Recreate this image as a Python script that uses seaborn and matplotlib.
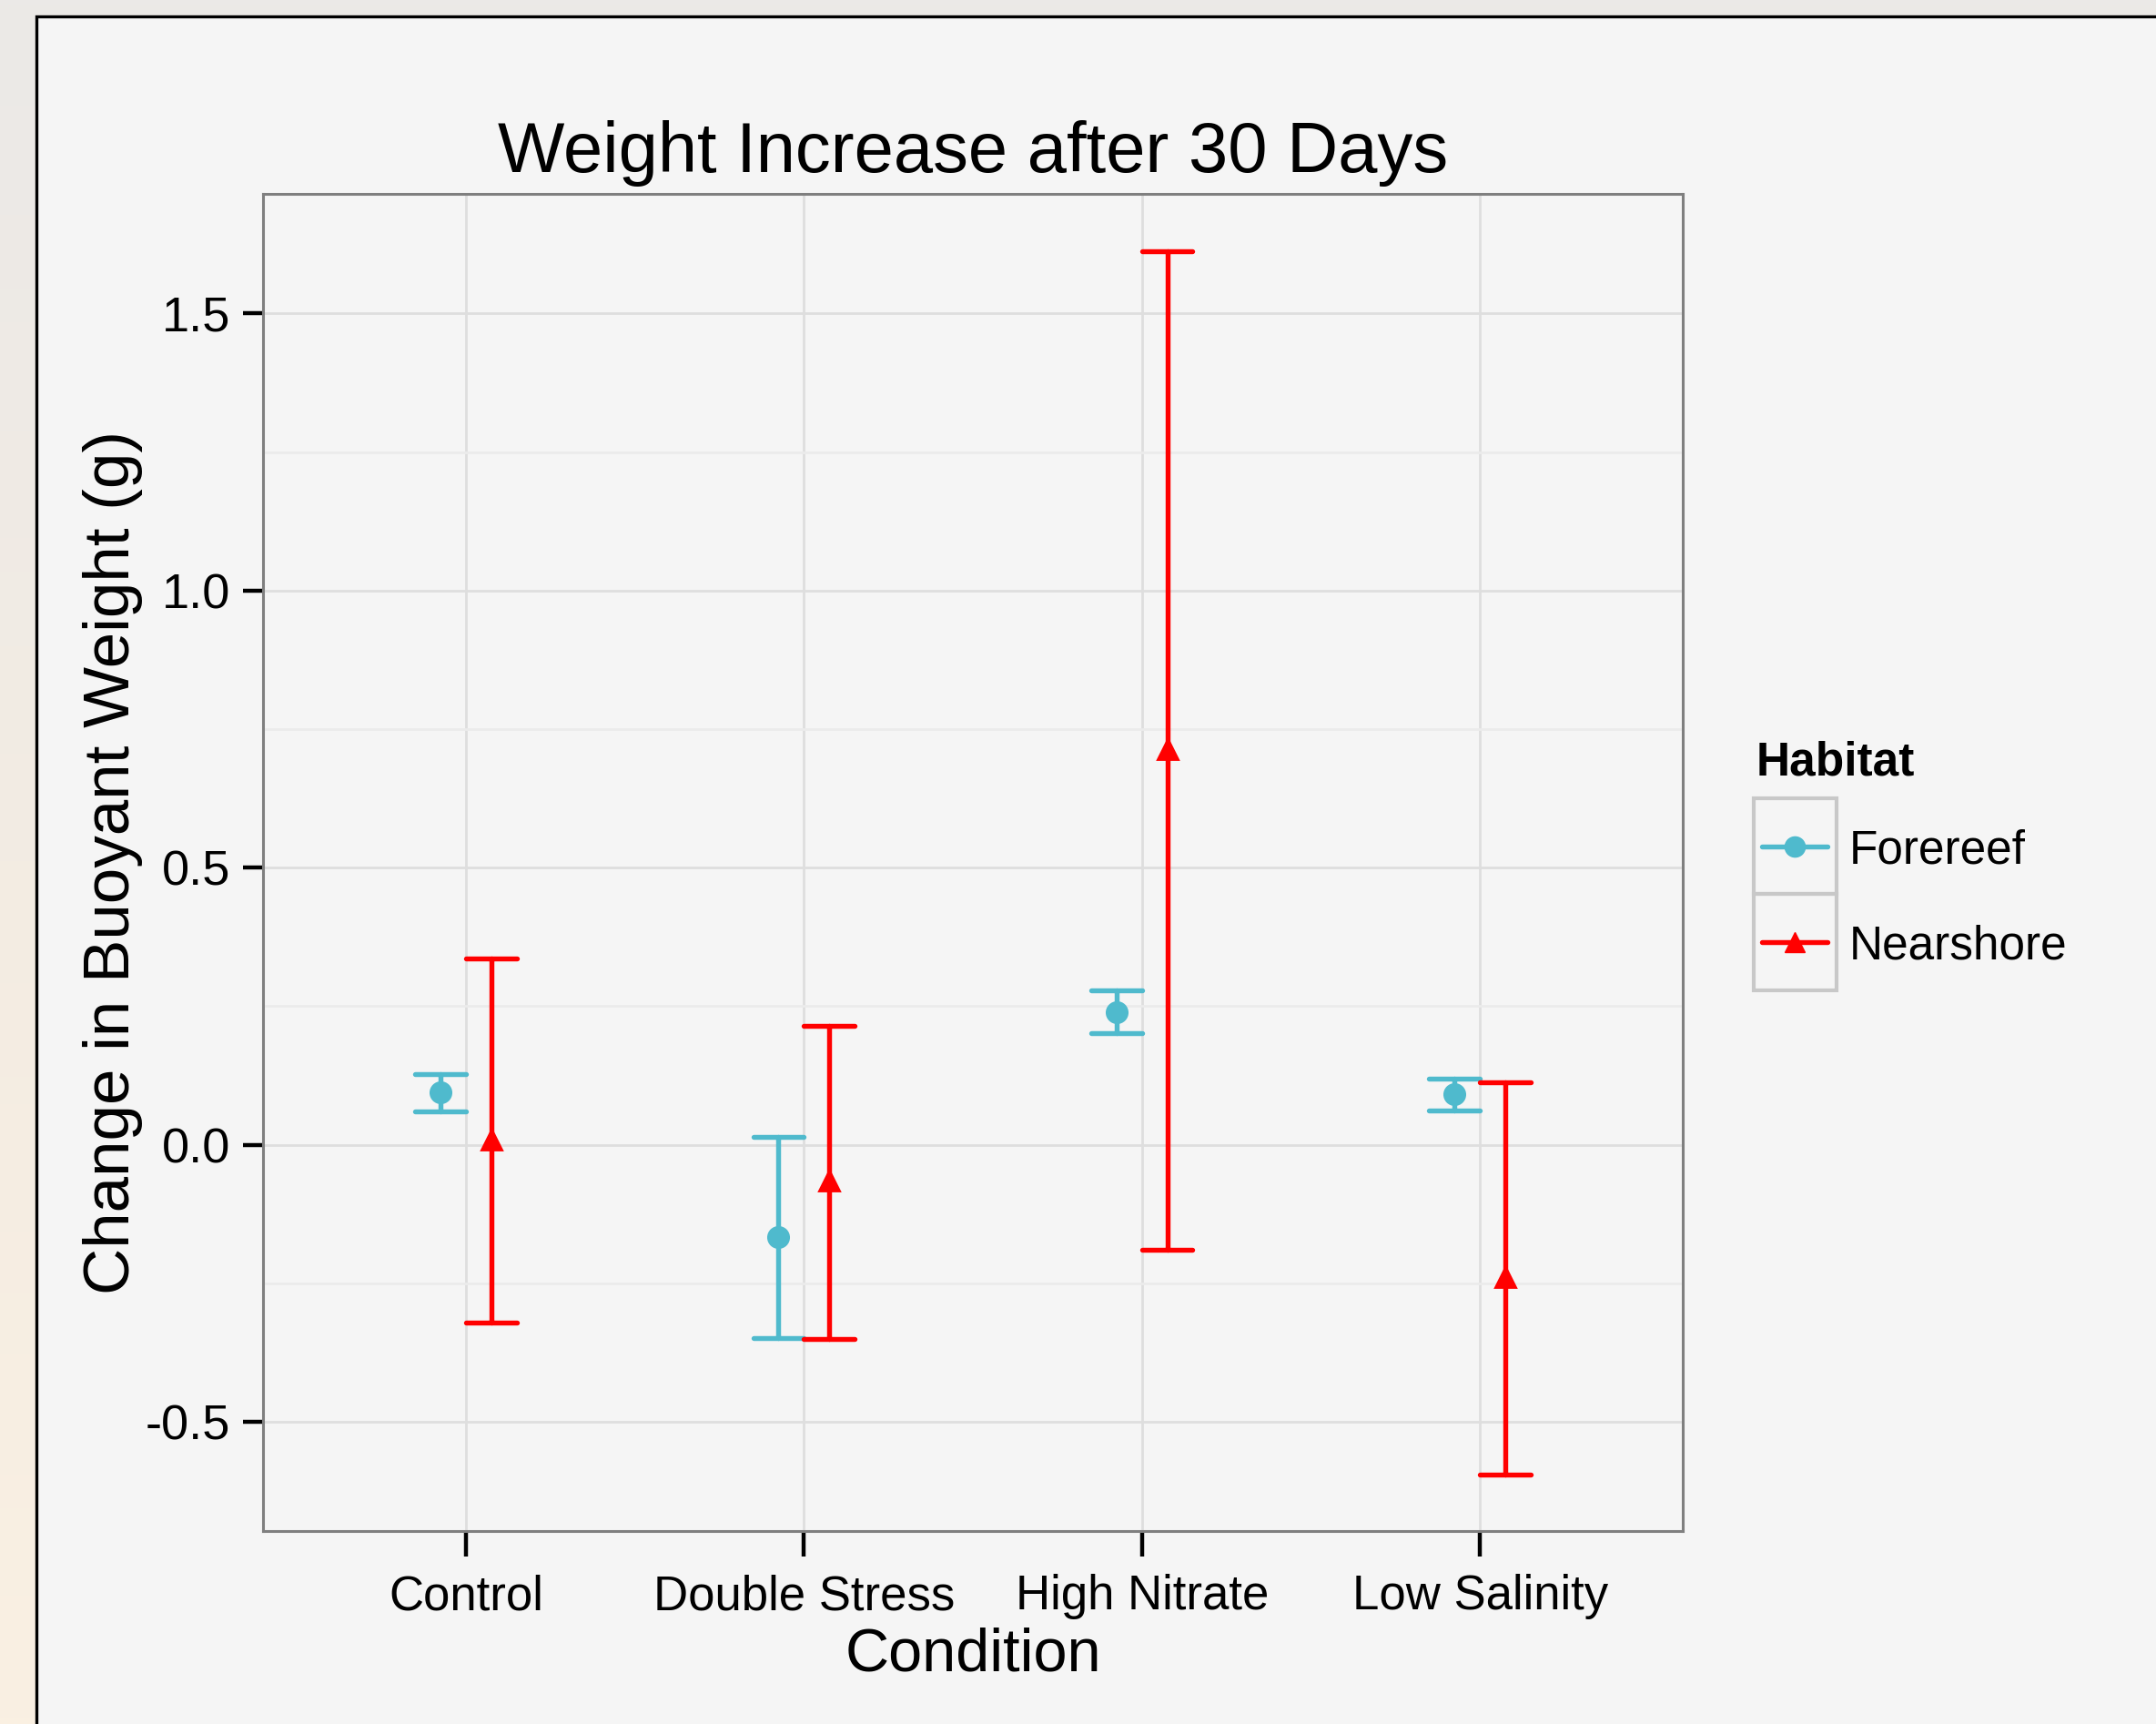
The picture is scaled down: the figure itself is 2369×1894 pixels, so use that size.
import numpy as np
import pandas as pd
import matplotlib.pyplot as plt
import seaborn as sns
from matplotlib.lines import Line2D
from matplotlib.patches import Rectangle
from matplotlib.colors import LinearSegmentedColormap
from matplotlib.ticker import MultipleLocator

# Values (mean and interval ends per group)
conditions = ["Control", "Double Stress", "High Nitrate", "Low Salinity"]
habitats = ["Forereef", "Nearshore"]
forereef_mean = [0.094, -0.167, 0.239, 0.092]
forereef_low = [0.060, -0.348, 0.201, 0.062]
forereef_high = [0.127, 0.015, 0.279, 0.119]
nearshore_mean = [0.010, -0.065, 0.714, -0.239]
nearshore_low = [-0.321, -0.351, -0.189, -0.595]
nearshore_high = [0.336, 0.214, 1.612, 0.112]
y_ticks = [-0.5, 0.0, 0.5, 1.0, 1.5]

colors = ["#4fbacd", "#ff0000"]
markers = ["o", "^"]

# long table: low / mean / high per group -> median = mean, min/max = interval
rows = []
for hab, means, lows, highs in [
    ("Forereef", forereef_mean, forereef_low, forereef_high),
    ("Nearshore", nearshore_mean, nearshore_low, nearshore_high),
]:
    for cond, m, lo, hi in zip(conditions, means, lows, highs):
        for v in (lo, m, hi):
            rows.append({"Condition": cond, "Habitat": hab, "Change": v})
df = pd.DataFrame(rows)

sns.set_style("whitegrid")
plt.rcParams["font.family"] = ["Liberation Sans", "DejaVu Sans"]
plt.rcParams["text.color"] = "black"
plt.rcParams["axes.labelcolor"] = "black"

W, H = 2369, 1894
fig = plt.figure(figsize=(W / 100, H / 100), dpi=100)
fig.patch.set_facecolor("#efebe6")

# faded photo-like backdrop: grey at top, warm beige lower down
bg = fig.add_axes([0, 0, 1, 1], zorder=-10)
bg_cmap = LinearSegmentedColormap.from_list("bg", ["#ebe9e7", "#f3ece3", "#faf0e2"])
bg.imshow(np.linspace(0, 1, 256).reshape(-1, 1), cmap=bg_cmap, aspect="auto",
          extent=[0, 1, 0, 1], origin="upper")
bg.set_axis_off()

# light panel with black frame (extends past right / bottom edge)
panel = Rectangle((40 / W, -0.02), 1.05, 1 - 18 / H + 0.02, transform=fig.transFigure,
                  facecolor="#f5f5f5", edgecolor="black", linewidth=2.4, zorder=-5)
fig.patches.append(panel)

ax = fig.add_axes([289 / W, 1 - 1682 / H, (1849 - 289) / W, (1682 - 213) / H])
ax.set_facecolor("#f5f5f5")

sns.pointplot(
    data=df, x="Condition", y="Change", hue="Habitat",
    order=conditions, hue_order=habitats,
    estimator="median", errorbar=("pi", 100),
    dodge=0.15, linestyle="none", markers=markers, palette=colors,
    capsize=0.15, err_kws={"linewidth": 3.9}, markersize=16,
    legend=False, ax=ax,
)

ax.set_xlim(-0.6, 3.6)
ax.set_ylim(-0.697, 1.716)
ax.set_yticks(y_ticks)
ax.set_yticklabels(["-0.5", "0.0", "0.5", "1.0", "1.5"])
ax.yaxis.set_minor_locator(MultipleLocator(0.25))

ax.grid(True, which="major", color="#dedede", linewidth=2.0)
ax.grid(True, which="minor", axis="y", color="#ebebeb", linewidth=2.0)
ax.set_axisbelow(True)
for s in ax.spines.values():
    s.set_color("#7f7f7f")
    s.set_linewidth(2.2)

ax.tick_params(axis="y", which="major", left=True, length=16, width=3.2, color="black",
               labelsize=39, labelcolor="black", pad=10)
ax.tick_params(axis="x", which="major", bottom=True, length=20, width=3.2, color="black",
               labelsize=38, labelcolor="black", pad=14)
ax.tick_params(axis="y", which="minor", left=False, length=0)

ax.set_title("Weight Increase after 30 Days", fontsize=56, pad=17)
ax.set_xlabel("Condition", fontsize=48, labelpad=6)
ax.set_ylabel("Change in Buoyant Weight (g)", fontsize=51, labelpad=2)

# legend drawn by hand to mimic the boxed keys
fig.text(1930 / W, 1 - 852 / H, "Habitat", fontsize=37, fontweight="bold", va="baseline")
key_rows = [(877, 982), (982, 1088)]
for (top, bot), lab, col, mk in zip(key_rows, habitats, colors, markers):
    fig.patches.append(Rectangle((1927 / W, 1 - bot / H), 91 / W, (bot - top) / H,
                                 transform=fig.transFigure, facecolor="none",
                                 edgecolor="#c8c8c8", linewidth=3))
    yc = 1 - (top + bot) / 2 / H
    fig.add_artist(Line2D([1936 / W, 2008 / W], [yc, yc], transform=fig.transFigure,
                          color=col, linewidth=3.9))
    fig.add_artist(Line2D([1972 / W], [yc], transform=fig.transFigure, color=col,
                          marker=mk, markersize=16, linestyle="none"))
    fig.text(2032 / W, yc, lab, fontsize=37, va="center_baseline")

fig.savefig("out.png", dpi=100, facecolor=fig.get_facecolor())
